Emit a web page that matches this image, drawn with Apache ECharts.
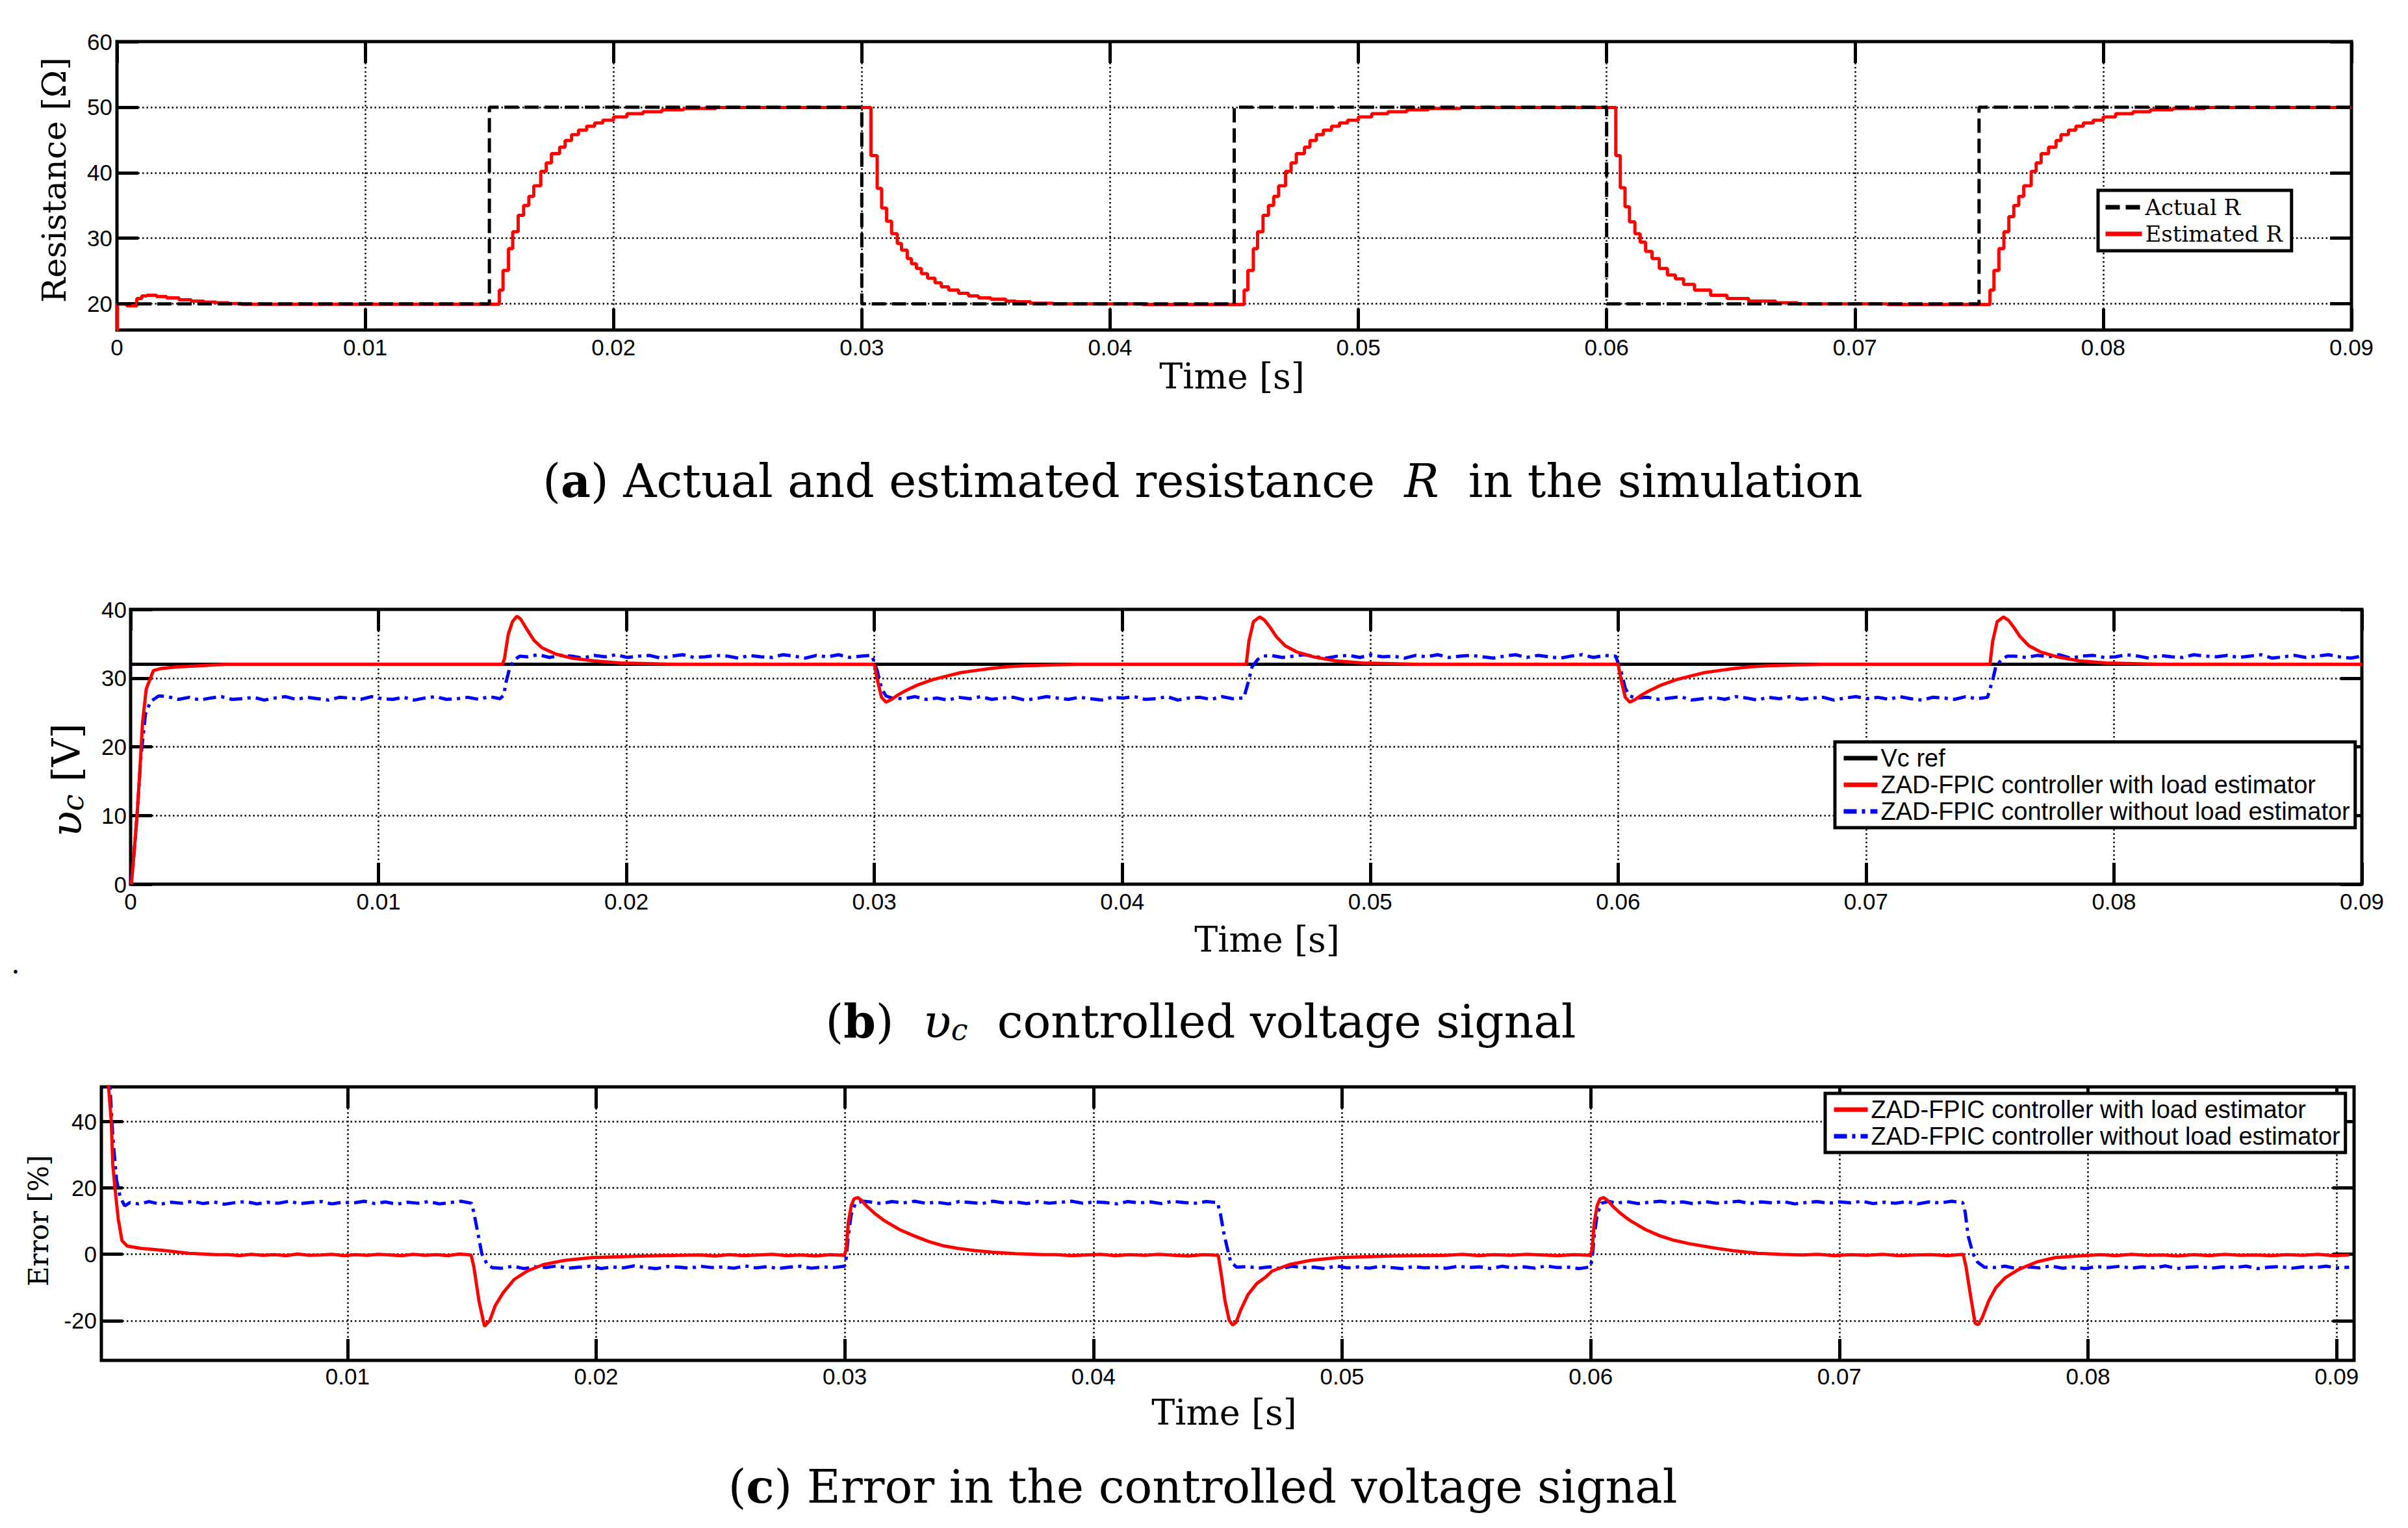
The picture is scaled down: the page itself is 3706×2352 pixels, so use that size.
<!DOCTYPE html>
<html>
<head>
<meta charset="utf-8">
<script src="https://cdn.jsdelivr.net/npm/echarts@6/dist/echarts.min.js"></script>
<style>
html,body{margin:0;padding:0;background:#fff;}
#chart{width:3706px;height:2352px;}
</style>
</head>
<body>
<div id="chart"></div>
<script>
// ---------- Panel (a): resistance ----------
const xTicksAB = [0, 0.01, 0.02, 0.03, 0.04, 0.05, 0.06, 0.07, 0.08, 0.09];
const yTicksA = [20, 30, 40, 50, 60];
const rActual = [[0,20],[0.015,20],[0.015,50],[0.03,50],[0.03,20],[0.045,20],[0.045,50],[0.06,50],[0.06,20],[0.075,20],[0.075,50],[0.09,50]];
// staircase points: [time of step, value held after it]
const rEstimated = [
 [0,16],[0.00002,20],[0.0004,19.7],[0.0008,20.8],[0.001,21.2],[0.0012,21.3],[0.0016,21.1],[0.002,20.9],[0.0025,20.6],[0.003,20.4],[0.0035,20.25],[0.004,20.15],[0.0045,20.05],[0.005,19.95],
 [0.0154,22.1],[0.01555,25.1],[0.01577,28.4],[0.01594,31.0],[0.01616,33.5],[0.01638,35.0],[0.01659,36.4],[0.01679,38.0],[0.01707,40.2],[0.01729,41.5],[0.0175,42.9],[0.01783,43.9],[0.01805,44.9],[0.01831,45.8],[0.01859,46.5],[0.01892,47.1],[0.01924,47.6],[0.01957,48.0],[0.02,48.5],[0.02054,49.0],[0.02119,49.3],[0.02195,49.6],[0.02282,49.8],[0.02412,49.95],
 [0.03037,42.6],[0.03062,37.6],[0.0308,34.6],[0.031,32.6],[0.0312,30.7],[0.03143,29.2],[0.0316,28.2],[0.03183,26.9],[0.032,26.1],[0.0322,25.4],[0.0324,24.6],[0.03265,23.9],[0.03295,23.2],[0.0332,22.6],[0.0335,22.1],[0.0339,21.6],[0.0343,21.2],[0.0347,20.9],[0.0352,20.7],[0.0358,20.4],[0.0362,20.3],[0.0368,20.1],[0.0377,20.0],[0.0413,19.9],
 [0.0454,22.1],[0.04555,25.1],[0.04577,28.4],[0.04594,31.0],[0.04616,33.5],[0.04638,35.0],[0.04659,36.4],[0.04679,38.0],[0.04707,40.2],[0.04729,41.5],[0.0475,42.9],[0.04783,43.9],[0.04805,44.9],[0.04831,45.8],[0.04859,46.5],[0.04892,47.1],[0.04924,47.6],[0.04957,48.0],[0.05,48.5],[0.05054,49.0],[0.05119,49.3],[0.05195,49.6],[0.05282,49.8],[0.05412,49.95],
 [0.06037,42.6],[0.06055,37.7],[0.06074,34.8],[0.06092,32.5],[0.06114,30.7],[0.06135,29.4],[0.06157,28.0],[0.06183,26.9],[0.06212,25.4],[0.06245,24.4],[0.06277,23.8],[0.0631,22.95],[0.06354,22.1],[0.06419,21.3],[0.06485,20.8],[0.06572,20.4],[0.06681,20.15],[0.06769,20.0],[0.0713,19.9],
 [0.07544,22.1],[0.0756,25.1],[0.0758,28.4],[0.076,31.0],[0.0762,33.3],[0.0764,35.0],[0.0766,36.4],[0.0768,38.0],[0.0771,40.2],[0.0773,41.5],[0.0775,42.9],[0.0778,43.9],[0.0781,44.9],[0.0783,45.8],[0.0786,46.5],[0.0789,47.1],[0.0792,47.6],[0.0796,48.0],[0.08,48.5],[0.0805,49.0],[0.0812,49.3],[0.0819,49.6],[0.0828,49.8],[0.0841,49.95],[0.09,49.95]
];

// ---------- Panel (b): controlled voltage ----------
const yTicksB = [0, 10, 20, 30, 40];
const vcRef = [[0,32],[0.09,32]];
const vcWithEst = [
 [0,0],[0.00004,0.3],[0.00015,5],[0.00026,10],[0.00037,16.3],[0.00048,23.4],[0.00063,28.4],[0.00092,31.1],[0.00124,31.4],[0.0018,31.6],[0.00233,31.7],[0.003,31.85],[0.00386,32.0],[0.015,32.0],
 [0.01508,32.8],[0.01523,36.3],[0.0154,38.2],[0.01558,39.0],[0.01573,38.6],[0.01595,37.3],[0.01627,35.5],[0.0166,34.4],[0.01715,33.5],[0.0178,32.9],[0.01867,32.5],[0.01976,32.2],[0.02194,32.0],[0.03,32.0],
 [0.03012,29.75],[0.03029,27.2],[0.03047,26.5],[0.0307,26.9],[0.03093,27.5],[0.03128,28.2],[0.03175,29.0],[0.03233,29.75],[0.03292,30.3],[0.0335,30.8],[0.03408,31.1],[0.03467,31.4],[0.03537,31.65],[0.03607,31.8],[0.037,31.9],[0.03817,32.0],[0.045,32.0],
 [0.04511,35.4],[0.04529,38.2],[0.04554,38.9],[0.04575,38.4],[0.04598,37.3],[0.04622,36.0],[0.04657,34.7],[0.04704,33.8],[0.0477,33.1],[0.0486,32.5],[0.0497,32.2],[0.0519,32.0],[0.06,32.0],
 [0.06012,29.75],[0.06029,27.2],[0.06047,26.5],[0.0607,26.9],[0.06093,27.5],[0.06128,28.2],[0.06175,29.0],[0.06233,29.75],[0.06292,30.3],[0.0635,30.8],[0.06408,31.1],[0.06467,31.4],[0.06537,31.65],[0.06607,31.8],[0.067,31.9],[0.06817,32.0],[0.075,32.0],
 [0.07511,35.4],[0.07529,38.2],[0.07554,38.9],[0.07575,38.4],[0.07598,37.3],[0.07622,36.0],[0.07657,34.7],[0.07704,33.8],[0.0777,33.1],[0.0786,32.5],[0.0797,32.2],[0.0819,32.0],[0.09,32.0]
];
// ripple read in the flat parts of the blue curve
const vcNoEstRipple1 = [27.3,26.9,27.2,26.8,27.1,27.3,26.9,27.0,27.2,26.8,27.1,27.3,26.9,27.2,27.0,26.8,27.2,27.1,26.9,27.3,27.0,26.9,27.2,26.8,27.1,27.3,26.9,27.0,27.2,26.9,27.3,27.0];
const vcNoEstRipple2 = [33.1,33.4,33.0,33.3,33.2,32.9,33.3,33.1,33.4,33.0,33.2,33.3,32.9,33.2,33.4,33.0,33.1,33.3,33.2,32.9,33.3,33.1,33.0,33.4,33.2,32.9,33.3,33.1,33.4,33.0,33.2,33.3];
const vcNoEstRipple3 = [27.0,27.3,26.9,27.1,26.8,27.2,27.0,27.3,26.9,27.1,27.2,26.8,27.0,27.3,27.1,26.9,27.2,27.0,26.8,27.2,27.1,27.3,26.9,27.0,27.3,26.8,27.1,27.2,26.9,27.3,27.0,27.1];
const vcNoEstRipple4 = [33.3,33.0,33.2,33.4,33.1,32.9,33.2,33.3,33.0,33.4,33.1,33.2,32.9,33.3,33.1,33.4,33.0,33.2,33.3,33.1,32.9,33.2,33.4,33.0,33.3,33.1,32.9,33.2,33.4,33.0,33.3,33.2];
const vcNoEstRipple5 = [27.2,26.9,27.1,27.3,26.8,27.0,27.2,26.9,27.3,27.1,26.8,27.2,27.0,27.3,26.9,27.1,27.2,26.8,27.1,27.3,27.0,27.2,26.9,27.3,27.0,26.8,27.2,27.1,26.9,27.3,27.0,27.2];
const vcNoEstRipple6 = [33.2,33.0,33.3,33.1,33.4,32.9,33.2,33.3,33.0,33.1,33.4,33.2,32.9,33.3,33.1,33.0,33.4,33.2,33.1,33.3,33.0,33.2,33.4,32.9,33.1,33.3,33.0,33.2,33.4,33.1,32.9,33.2];

// ---------- Panel (c): error ----------
const xTicksC = [0.01, 0.02, 0.03, 0.04, 0.05, 0.06, 0.07, 0.08, 0.09];
const yTicksC = [-20, 0, 20, 40];
const errWithEstRipple1 = [-0.1,-0.4,0.0,-0.3,-0.1,-0.4,0.1,-0.3,-0.2,0.0,-0.4,-0.1,-0.3,0.0,-0.2,-0.4,0.0,-0.3,-0.1,-0.4,0.1,-0.2];
const errWithEstRipple2 = [-0.2,-0.5,-0.1,-0.4,-0.2,0.0,-0.4,-0.2,-0.5,-0.1,-0.3];
const errWithEstRipple3 = [-0.1,-0.4,-0.2,0.0,-0.4,-0.1,-0.3,0.0,-0.3,-0.5,-0.1,-0.3];
const errWithEstRipple4 = [-0.3,0.0,-0.4,-0.1,-0.3,0.0,-0.2,-0.4,-0.1,-0.3];
const errWithEstRipple5 = [-0.2,0.0,-0.4,-0.1,-0.3,0.0,-0.4,-0.2,-0.1,-0.4,0.0];
const errWithEstRipple6 = [-0.1,-0.4,0.0,-0.3,-0.2,-0.5,-0.1,-0.4,0.0,-0.3,-0.2,-0.4,-0.1,-0.3,0.0,-0.4,-0.2];
const errNoEstRipple1 = [15.2,15.9,15.1,15.7,15.4,16.0,15.3,15.8,15.1,15.6,15.9,15.2,15.7,15.4,16.0,15.3,15.6,15.9,15.2,15.7,15.5,16.0,15.3,15.8,15.1,15.7,15.4,15.9,15.2,15.6,16.0,15.4];
const errNoEstRipple2 = [-4.2,-3.6,-4.3,-3.8,-4.0,-3.5,-4.2,-3.9,-3.6,-4.3,-3.8,-4.1,-3.5,-4.0,-4.3,-3.7,-3.9,-4.2,-3.6,-4.0,-3.8,-4.2,-3.5,-4.1,-3.7,-4.3,-3.9,-3.6,-4.2,-3.8,-4.0,-3.6];
const errNoEstRipple3 = [15.8,15.3,15.9,15.5,16.0,15.4,15.7,15.2,15.9,15.6,15.3,16.0,15.5,15.8,15.3,15.9,15.4,15.7,16.0,15.4,15.8,15.6,15.2,15.9,15.5,15.8,15.3,16.0,15.6,15.4,15.9,15.6];
const errNoEstRipple4 = [-3.7,-4.2,-3.8,-4.3,-3.6,-4.0,-3.9,-4.3,-3.5,-4.1,-3.8,-4.2,-3.6,-4.0,-4.3,-3.7,-4.1,-3.9,-4.2,-3.6,-4.0,-3.8,-4.3,-3.6,-4.1,-3.8,-4.2,-3.5,-4.0,-3.9,-4.3,-3.8];
const errNoEstRipple5 = [15.4,15.9,15.3,15.7,16.0,15.5,15.8,15.2,15.9,15.4,15.7,16.0,15.3,15.8,15.5,15.9,15.2,15.6,15.9,15.4,15.8,15.5,16.0,15.3,15.7,15.4,15.9,15.2,15.8,15.5,16.0,15.6];
const errNoEstRipple6 = [-4.0,-3.6,-4.3,-3.8,-4.1,-3.5,-4.2,-3.9,-4.3,-3.7,-4.0,-3.6,-4.2,-3.8,-4.1,-3.5,-4.3,-3.9,-3.7,-4.2,-3.8,-4.0,-3.6,-4.3,-3.9,-3.7,-4.2,-3.8,-4.0,-3.6,-4.1,-3.9];

// place read ripple values at even sample times inside a flat interval
function hold(t0, t1, vals) {
  const n = vals.length;
  return vals.map((v, i) => [t0 + (t1 - t0) * i / (n - 1), v]);
}

const vcWithoutEst = [].concat(
 [[0,0],[0.00008,2],[0.00015,5],[0.00026,10],[0.00041,18.3],[0.0006,24.8],[0.00081,26.6],[0.00113,27.4]],
 hold(0.0015, 0.0149, vcNoEstRipple1),
 [[0.01505,27.5],[0.01515,29.5],[0.0153,31.6],[0.0155,32.7],[0.0157,33.2]],
 hold(0.016, 0.0299, vcNoEstRipple2),
 [[0.03012,31.0],[0.03029,28.5],[0.03047,27.4],[0.0307,27.1]],
 hold(0.0312, 0.0449, vcNoEstRipple3),
 [[0.04511,29.75],[0.04523,31.6],[0.04546,32.7],[0.0457,33.2]],
 hold(0.046, 0.0599, vcNoEstRipple4),
 [[0.06012,31.0],[0.06029,28.5],[0.06047,27.4],[0.0607,27.1]],
 hold(0.0612, 0.0749, vcNoEstRipple5),
 [[0.07511,29.75],[0.07523,31.6],[0.07546,32.7],[0.0757,33.2]],
 hold(0.076, 0.09, vcNoEstRipple6)
);

const errWithEst = [].concat(
 [[0.0002,56],[0.00039,50.5],[0.0005,40],[0.00056,27],[0.00065,19.8],[0.00078,10.6],[0.00093,4.1],[0.00114,2.5],[0.00168,1.8],[0.00255,1.2],[0.00363,0.3],[0.00471,-0.1]],
 hold(0.0052, 0.01497, errWithEstRipple1),
 [[0.01508,-3.7],[0.01529,-14.2],[0.01551,-21.7],[0.01572,-20],[0.01594,-15.5],[0.01626,-11.6],[0.0167,-7.6],[0.01724,-5.0],[0.01788,-3.1],[0.01875,-1.8],[0.01983,-1.0],[0.02199,-0.5]],
 hold(0.0242, 0.02998, errWithEstRipple2),
 [[0.03006,1.6],[0.03014,9.5],[0.03026,14.7],[0.03037,16.7],[0.03053,17.1],[0.03067,16.3],[0.0309,14.4],[0.03119,12.4],[0.0316,10.1],[0.03219,7.5],[0.03277,5.6],[0.03336,3.9],[0.03394,2.6],[0.03453,1.8],[0.03523,1.1],[0.03593,0.65],[0.03687,0.2],[0.03803,-0.1]],
 hold(0.0385, 0.04502, errWithEstRipple3),
 [[0.04517,-7.5],[0.04529,-14.0],[0.04546,-19.9],[0.0456,-21.3],[0.04573,-20.6],[0.04593,-16.7],[0.04622,-12.1],[0.04657,-8.8],[0.04692,-6.9],[0.0472,-5.0],[0.04788,-3.1],[0.04875,-1.8],[0.04983,-1.0],[0.05199,-0.5]],
 hold(0.0542, 0.05998, errWithEstRipple4),
 [[0.06006,1.6],[0.06014,9.5],[0.06026,14.7],[0.06037,16.7],[0.06053,17.1],[0.06067,16.3],[0.0609,14.4],[0.06119,12.4],[0.0616,10.1],[0.06219,7.5],[0.06277,5.6],[0.06336,4.2],[0.06397,3.2],[0.06489,2.0],[0.06581,1.0],[0.06673,0.3],[0.06765,0.0]],
 hold(0.0685, 0.07498, errWithEstRipple5),
 [[0.07509,-3.6],[0.07528,-12.7],[0.07546,-20.8],[0.07559,-21.2],[0.07574,-19.2],[0.07601,-14],[0.07629,-10.1],[0.07665,-7.2],[0.0772,-4.6],[0.07794,-2.3],[0.07868,-1.0],[0.0796,-0.5]],
 hold(0.0805, 0.0905, errWithEstRipple6)
);

const errWithoutEst = [].concat(
 [[0.0003,56],[0.00045,50],[0.00056,35.5],[0.00071,22.4],[0.00086,17.2],[0.00104,14.6],[0.00125,15.6]],
 hold(0.0016, 0.01499, errNoEstRipple1),
 [[0.01508,12.6],[0.01525,6.1],[0.0154,0.2],[0.01562,-3.1],[0.01583,-4.05]],
 hold(0.0162, 0.02999, errNoEstRipple2),
 [[0.03006,-1.0],[0.03014,5.6],[0.03026,12.1],[0.03043,15.4],[0.03073,16.0]],
 hold(0.031, 0.04499, errNoEstRipple3),
 [[0.04511,12.1],[0.04523,6.9],[0.04535,2.9],[0.04552,-2.3],[0.04576,-3.9]],
 hold(0.0462, 0.05999, errNoEstRipple4),
 [[0.06006,-1.0],[0.06014,5.6],[0.06026,12.1],[0.06043,15.4],[0.06073,16.0]],
 hold(0.061, 0.07496, errNoEstRipple5),
 [[0.07506,12.7],[0.07518,5.5],[0.07537,0.3],[0.07555,-2.3],[0.07583,-3.9]],
 hold(0.0762, 0.0905, errNoEstRipple6)
);

// ---------- styling ----------
const NUMFONT = 'Liberation Sans, Arial, sans-serif';
const SERIF = 'DejaVu Serif, serif';
const RED = '#ff0000', BLUE = '#0000ff', BLACK = '#000000';
const S_WITH = 'ZAD-FPIC controller with load estimator';
const S_WITHOUT = 'ZAD-FPIC controller without load estimator';

const fmtX = v => String(Math.round(v * 100) / 100);

function tickStyle(custom) {
  const t = { show: true, inside: true, length: 33, lineStyle: { color: BLACK, width: 5 } };
  if (custom) t.customValues = custom;
  return t;
}
function mainAxis(gridIndex, position, min, max, opts) {
  const ax = {
    type: 'value', gridIndex, position, min, max,
    axisLine: { show: false, onZero: false },
    axisTick: tickStyle(opts.custom),
    axisLabel: { show: true, color: BLACK, fontFamily: NUMFONT, fontSize: 35, margin: opts.margin, formatter: opts.fmt },
    splitLine: { show: true, lineStyle: { color: BLACK, width: 2.5, type: [2.5, 4] } }
  };
  if (opts.custom) ax.axisLabel.customValues = opts.custom;
  if (opts.interval) ax.interval = opts.interval;
  return ax;
}
function mirrorAxis(gridIndex, position, min, max, opts) {
  const ax = {
    type: 'value', gridIndex, position, min, max,
    axisLine: { show: false, onZero: false },
    axisTick: tickStyle(opts.custom),
    axisLabel: { show: false },
    splitLine: { show: false }
  };
  if (opts.custom) ax.axisLabel.customValues = opts.custom;
  if (opts.interval) ax.interval = opts.interval;
  return ax;
}

const xAxis = [
  mainAxis(0, 'bottom', 0, 0.09, { interval: 0.01, margin: 9, fmt: fmtX }),
  mirrorAxis(0, 'top', 0, 0.09, { interval: 0.01 }),
  mainAxis(1, 'bottom', 0, 0.09, { interval: 0.01, margin: 9, fmt: fmtX }),
  mirrorAxis(1, 'top', 0, 0.09, { interval: 0.01 }),
  mainAxis(2, 'bottom', 0.0001, 0.0907, { custom: xTicksC, margin: 7, fmt: fmtX }),
  mirrorAxis(2, 'top', 0.0001, 0.0907, { custom: xTicksC })
];
const yAxis = [
  mainAxis(0, 'left', 16, 60, { custom: yTicksA, margin: 7 }),
  mirrorAxis(0, 'right', 16, 60, { custom: yTicksA }),
  mainAxis(1, 'left', 0, 40, { interval: 10, margin: 6 }),
  mirrorAxis(1, 'right', 0, 40, { interval: 10 }),
  mainAxis(2, 'left', -32, 50.5, { custom: yTicksC, margin: 7 }),
  mirrorAxis(2, 'right', -32, 50.5, { custom: yTicksC })
];

function line(name, xi, yi, data, color, type, width, z, step) {
  const s = {
    name, type: 'line', xAxisIndex: xi, yAxisIndex: yi, data,
    symbol: 'none', showSymbol: false, clip: true, z,
    lineStyle: { color, width, type }, itemStyle: { color },
    emphasis: { disabled: true }
  };
  if (step) s.step = step;
  return s;
}

const DASH = [22, 9];
const DASHDOT = [20, 8, 5, 8];

const series = [
  line('Estimated R', 0, 0, rEstimated, RED, 'solid', 5, 3, 'end'),
  line('Actual R', 0, 0, rActual, BLACK, DASH, 5, 4),
  line('Vc ref', 2, 2, vcRef, BLACK, 'solid', 5, 2),
  line(S_WITHOUT, 2, 2, vcWithoutEst, BLUE, DASHDOT, 5, 3),
  line(S_WITH, 2, 2, vcWithEst, RED, 'solid', 5, 4),
  line(S_WITHOUT, 4, 4, errWithoutEst, BLUE, DASHDOT, 5, 3),
  line(S_WITH, 4, 4, errWithEst, RED, 'solid', 5, 4)
];

const legendBase = {
  orient: 'vertical', backgroundColor: '#ffffff', borderColor: BLACK, borderWidth: 5, borderRadius: 0,
  itemHeight: 16, selectedMode: false, align: 'left',
  itemStyle: { opacity: 0 },
  lineStyle: { width: 7 }
};

const legend = [
  Object.assign({}, legendBase, {
    left: 3229, top: 293, data: ['Actual R', 'Estimated R'],
    itemWidth: 56, itemGap: 7, padding: [9, 14, 9, 8],
    textStyle: { fontFamily: SERIF, fontSize: 34, color: BLACK }
  }),
  Object.assign({}, legendBase, {
    left: 2824, top: 1142, data: ['Vc ref', S_WITH, S_WITHOUT],
    itemWidth: 52, itemGap: 3, padding: [6, 8, 6, 10],
    textStyle: { fontFamily: NUMFONT, fontSize: 38, color: BLACK }
  }),
  Object.assign({}, legendBase, {
    left: 2809, top: 1683, data: [S_WITH, S_WITHOUT],
    itemWidth: 52, itemGap: 3, padding: [6, 8, 6, 10],
    textStyle: { fontFamily: NUMFONT, fontSize: 38, color: BLACK }
  })
];

function txt(x, y, text, size, extra) {
  return Object.assign({
    type: 'text', x, y, z: 100,
    style: Object.assign({ text, fontFamily: SERIF, fontSize: size, fill: BLACK, textAlign: 'center', textVerticalAlign: 'middle' }, (extra && extra.style) || {})
  }, (extra && extra.el) || {});
}
const capRich = {
  p: { fontFamily: SERIF, fontSize: 71, color: BLACK },
  b: { fontFamily: SERIF, fontSize: 71, fontWeight: 'bold', color: BLACK },
  i: { fontFamily: SERIF, fontSize: 71, fontStyle: 'italic', color: BLACK },
  s: { fontFamily: SERIF, fontSize: 46, fontStyle: 'italic', color: BLACK, verticalAlign: 'bottom', lineHeight: 40 }
};
const yRich = {
  p: { fontFamily: SERIF, fontSize: 60, color: BLACK },
  i: { fontFamily: SERIF, fontSize: 66, fontStyle: 'italic', color: BLACK },
  s: { fontFamily: SERIF, fontSize: 46, fontStyle: 'italic', color: BLACK, verticalAlign: 'bottom', lineHeight: 36 }
};

const graphic = [
  txt(1896, 579, 'Time [s]', 54),
  txt(1950, 1446, 'Time [s]', 54),
  txt(1884, 2174, 'Time [s]', 54),
  txt(1851, 740, '{p|(}{b|a}{p|) Actual and estimated resistance  }{i|R}{p|  in the simulation}', 71, { style: { rich: capRich } }),
  txt(1848, 1572, '{p|(}{b|b}{p|)  }{i|υ}{s|c}{p|  controlled voltage signal}', 71, { style: { rich: capRich } }),
  txt(1851, 2288, '{p|(}{b|c}{p|) Error in the controlled voltage signal}', 71, { style: { rich: capRich } }),
  txt(83, 277, 'Resistance [Ω]', 51, { el: { rotation: Math.PI / 2 } }),
  txt(102, 1201, '{i|υ}{s|c}{p| [V]}', 60, { el: { rotation: Math.PI / 2 }, style: { rich: yRich } }),
  txt(59, 1879, 'Error [%]', 42, { el: { rotation: Math.PI / 2 } }),
  txt(24, 1482, '.', 44)
];

const chart = echarts.init(document.getElementById('chart'), null, { renderer: 'svg', width: 3706, height: 2352 });
chart.setOption({
  animation: false,
  backgroundColor: '#ffffff',
  grid: [
    { left: 180, top: 64, width: 3439, height: 444, show: true, borderColor: BLACK, borderWidth: 5, backgroundColor: 'transparent', containLabel: false },
    { left: 201, top: 938, width: 3434, height: 423, show: true, borderColor: BLACK, borderWidth: 5, backgroundColor: 'transparent', containLabel: false },
    { left: 156, top: 1673, width: 3467, height: 421, show: true, borderColor: BLACK, borderWidth: 5, backgroundColor: 'transparent', containLabel: false }
  ],
  xAxis, yAxis, series, legend, graphic
});
</script>
</body>
</html>
